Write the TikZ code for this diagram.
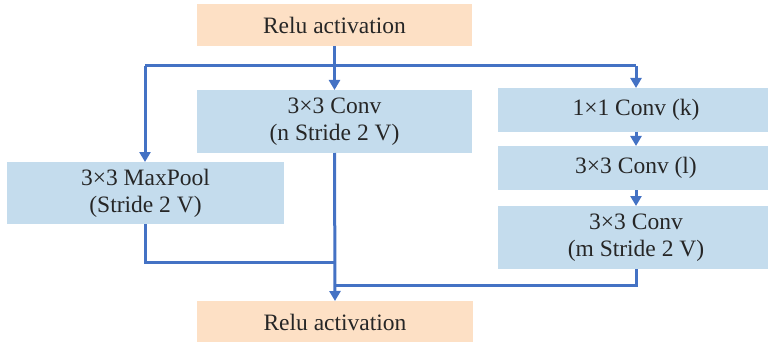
\documentclass[tikz,border=0pt]{standalone}
\usepackage{fontspec}
\setmainfont{Liberation Serif}
\usetikzlibrary{arrows.meta}
\definecolor{peach}{RGB}{253,224,197}
\definecolor{paleblue}{RGB}{196,220,237}
\definecolor{linkblue}{RGB}{68,114,196}
\begin{document}
\begin{tikzpicture}[x=1pt,y=-1pt,
  box/.style={inner sep=0pt, outer sep=0pt, align=center,
    font=\fontsize{23.5}{27}\selectfont, text=black!85},
  relubox/.style={box, fill=peach},
  opbox/.style={box, fill=paleblue},
  link/.style={draw=linkblue, line width=3pt},
  flow/.style={link, -{Triangle[length=10pt,width=11pt]}}]
\useasboundingbox (0,0) rectangle (768,342);

% input and output activations
\node[relubox, minimum width=275pt, minimum height=42pt] (top) at (334.5,25) {Relu activation};
\node[relubox, minimum width=276pt, minimum height=42pt] (bot) at (335,322) {Relu activation};

% three branches
\node[opbox, minimum width=275pt, minimum height=63pt] (conv) at (334.5,121.5) {3×3 Conv\\(n Stride 2 V)};
\node[opbox, minimum width=277pt, minimum height=62pt] (pool) at (145.5,193) {3×3 MaxPool\\(Stride 2 V)};
\node[opbox, minimum width=276pt, minimum height=44pt] (k) at (636,110) {1×1 Conv (k)};
\node[opbox, minimum width=276pt, minimum height=44pt] (l) at (636,168) {3×3 Conv (l)};
\node[opbox, minimum width=276pt, minimum height=63pt] (m) at (636,237.5) {3×3 Conv\\(m Stride 2 V)};

% split and merge points
\coordinate (split) at (334.5,66);
\coordinate (splitL) at (145,66);
\coordinate (splitR) at (636,66);
\coordinate (mergeL) at (334.5,262);
\coordinate (mergeR) at (334.5,285);

% fan-out
\draw[link] (top.south) -- (split);
\draw[link] (splitL) -- (splitR);
\draw[flow] (splitL) -- (pool.north -| splitL);
\draw[flow] (split) -- (conv.north);
\draw[flow] (splitR) -- (k.north);

% right-hand chain
\draw[flow] (k) -- (l);
\draw[flow] (l) -- (m);

% fan-in
\draw[link] (pool.south -| splitL) |- (mergeL);
\draw[link] (m.south) |- (mergeR);
\draw[flow] (conv.south) -- (bot.north);
\end{tikzpicture}
\end{document}
